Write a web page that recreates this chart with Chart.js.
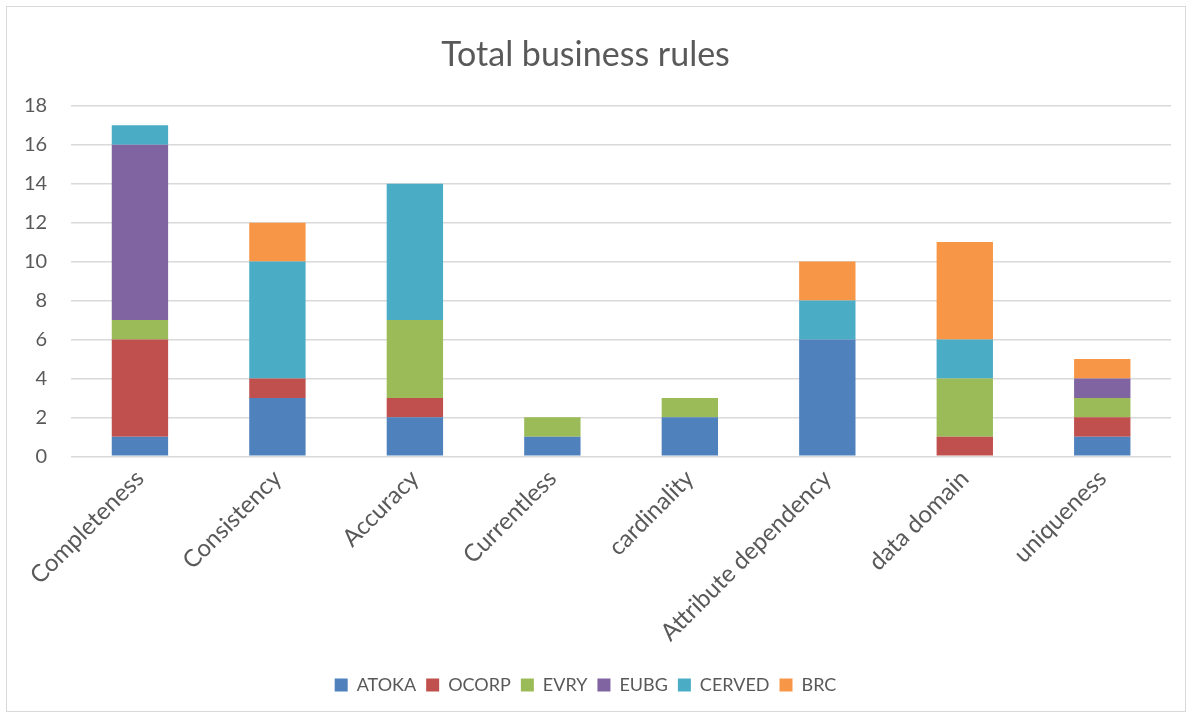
<!DOCTYPE html>
<html>
<head>
<meta charset="utf-8">
<script src="https://cdn.jsdelivr.net/npm/chart.js@4"></script>
<style>
  html, body { margin: 0; padding: 0; background: #fff; }
  #frame {
    position: absolute; left: 6px; top: 6px;
    width: 1178px; height: 704px;
    border: 1px solid #d9d9d9;
  }
  #wrap { position: absolute; left: 0; top: 0; width: 1178px; height: 704px; }
</style>
</head>
<body>
<div id="frame"><div id="wrap"><canvas id="bar-chart"></canvas></div></div>
<script>
const categories = ['Completeness', 'Consistency', 'Accuracy', 'Currentless', 'cardinality',
  'Attribute dependency', 'data domain', 'uniqueness'];

const atoka  = [1, 3, 2, 1, 2, 6, 0, 1];
const ocorp  = [5, 1, 1, 0, 0, 0, 1, 1];
const evry   = [1, 0, 4, 1, 1, 0, 3, 1];
const eubg   = [9, 0, 0, 0, 0, 0, 0, 1];
const cerved = [1, 6, 7, 0, 0, 2, 2, 0];
const brc    = [0, 2, 0, 0, 0, 2, 5, 1];

const textColor = '#595959';
const fontFamily = 'Lato, "Open Sans", sans-serif';

const baseDataset = {
  borderWidth: 0,
  categoryPercentage: 1,
  barPercentage: 0.41,
};

const datasets = [
  { label: 'ATOKA', data: atoka, backgroundColor: '#4f81bd', ...baseDataset },
  { label: 'OCORP', data: ocorp, backgroundColor: '#c0504d', ...baseDataset },
  { label: 'EVRY', data: evry, backgroundColor: '#9bbb59', ...baseDataset },
  { label: 'EUBG', data: eubg, backgroundColor: '#8064a2', ...baseDataset },
  { label: 'CERVED', data: cerved, backgroundColor: '#4bacc6', ...baseDataset },
  { label: 'BRC', data: brc, backgroundColor: '#f79646', ...baseDataset },
];

new Chart(document.getElementById('bar-chart'), {
  type: 'bar',
  data: {
    labels: categories,
    datasets,
  },
  options: {
    responsive: true,
    maintainAspectRatio: false,
    animation: false,
    layout: {
      padding: { left: -7, right: 14, top: 14, bottom: 7 },
    },
    scales: {
      x: {
        stacked: true,
        grid: { display: false },
        border: { display: false },
        ticks: {
          color: textColor,
          font: { family: fontFamily, size: 24 },
          maxRotation: 45,
          minRotation: 45,
          padding: 0,
        },
        // leave a gap under the rotated labels before the legend
        afterFit: (scale) => {
          scale.paddingLeft = 0;
          scale.height += 19;
        },
      },
      y: {
        stacked: true,
        min: 0,
        max: 18,
        grid: { color: '#d9d9d9', lineWidth: 1.5, drawTicks: false },
        border: { display: false },
        ticks: {
          stepSize: 2,
          color: textColor,
          font: { family: fontFamily, size: 20 },
          padding: 24,
        },
      },
    },
    plugins: {
      title: {
        display: true,
        text: 'Total business rules',
        color: textColor,
        font: { family: fontFamily, size: 34, weight: 'normal' },
        padding: { top: 14, bottom: 30 },
      },
      legend: {
        position: 'bottom',
        labels: {
          color: textColor,
          font: { family: fontFamily, size: 18 },
          boxWidth: 13,
          boxHeight: 13,
          padding: 10,
        },
      },
      tooltip: { enabled: false },
    },
  },
});
</script>
</body>
</html>
